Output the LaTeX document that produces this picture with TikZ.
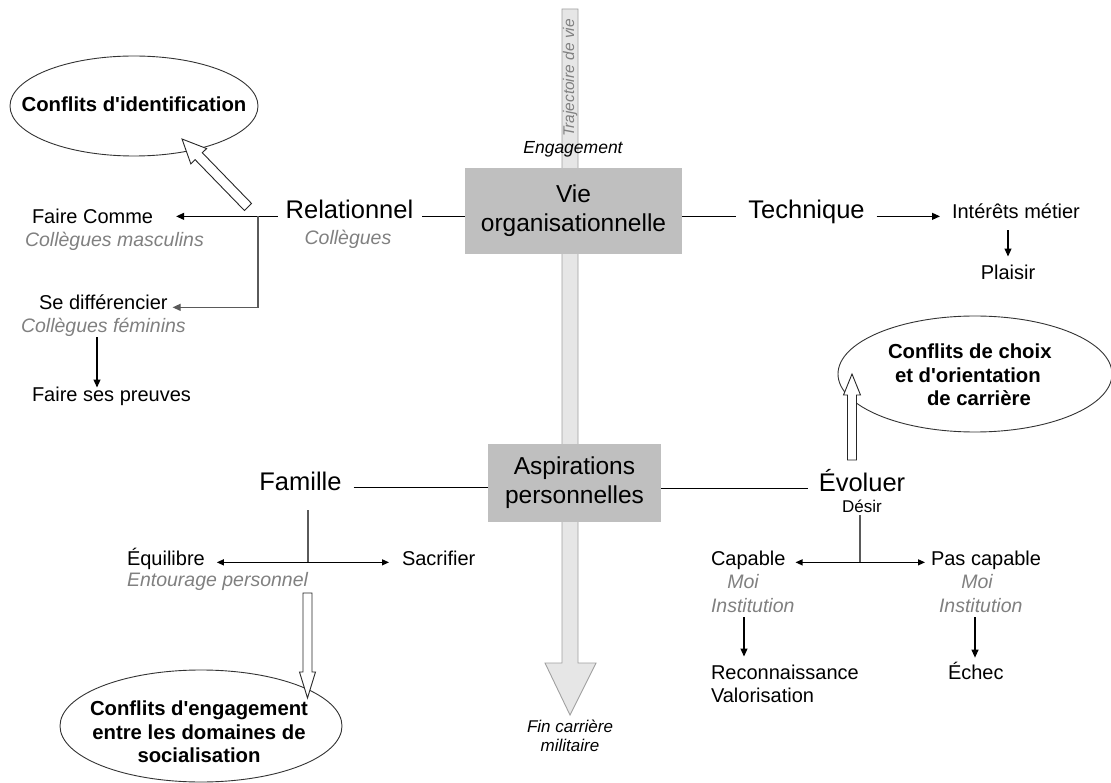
\documentclass[tikz,border=0pt]{standalone}
\usepackage{fontspec}
\setmainfont{Liberation Sans}[Ligatures=TeXOff]
\usetikzlibrary{arrows.meta,shapes.geometric,calc}
\definecolor{boxgray}{HTML}{BFBFBF}
\definecolor{shaftfill}{HTML}{E6E6E6}
\definecolor{shaftline}{HTML}{A0A0A0}
\definecolor{subgray}{HTML}{808080}
\definecolor{linegray}{HTML}{5A5A5A}
\newcommand\myfs[1]{\fontsize{#1}{#1}\selectfont}
\newcommand\hollowarr[5]{%
  \coordinate (hb) at ($(#2)!#5!(#1)$);
  \draw[hollow] ($(#1)!#3!90:(#2)$) -- ($(hb)!#3!-90:(#1)$) -- ($(hb)!#4!-90:(#1)$) -- (#2)
     -- ($(hb)!#4!90:(#1)$) -- ($(hb)!#3!90:(#1)$) -- ($(#1)!#3!-90:(#2)$) -- cycle;}
\begin{document}
\begin{tikzpicture}[x=1pt,y=-1pt,
  lbl/.style={inner sep=0pt, outer sep=0pt, anchor=base},
  bigtxt/.style={font=\myfs{25.5}},
  medtxt/.style={font=\myfs{20}},
  subtxt/.style={font=\myfs{19.5}\itshape, text=subgray},
  ctxt/.style={font=\myfs{20.3}\bfseries},
  conn/.style={line width=1.1pt, draw=black},
  arr/.style={conn, -{Triangle[length=8pt,width=7pt]}},
  darr/.style={conn, {Triangle[length=7pt,width=6pt]}-{Triangle[length=7pt,width=6pt]}},
  branch/.style={line width=1.1pt, draw=linegray},
  cbox/.style={fill=boxgray, draw=none, align=center, font=\fontsize{24.5}{29}\selectfont, inner sep=0pt},
  confl/.style={ellipse, draw=black!80, line width=0.9pt, inner sep=0pt},
  hollow/.style={draw=black!85, fill=white, line width=0.9pt, line join=miter},
  shaft/.style={draw=shaftline, fill=shaftfill, line width=0.9pt}]
\useasboundingbox (0,0) rectangle (1111,783);
% life trajectory arrow
\draw[shaft] (562,9) -- (578,9) -- (578,663) -- (596,663) -- (570,715) -- (545,663) -- (562,663) -- cycle;
\node[lbl, rotate=90, anchor=center, font=\myfs{15.5}\itshape, text=subgray] (traj) at (570,78) {Trajectoire de vie};
\node[lbl, font=\myfs{17.5}\itshape] (eng) at (573,154) {Engagement};
\node[lbl, anchor=center, align=center, font=\fontsize{17}{19}\selectfont\itshape] (fin) at (570,736) {Fin carrière\\militaire};
% central boxes
\node[cbox, minimum width=217pt, minimum height=86pt] (vie) at (573.5,211) {Vie\\organisationnelle};
\node[cbox, minimum width=173pt, minimum height=78pt] (asp) at (574.5,483) {Aspirations\\personnelles};
% ---- Relationnel
\node[lbl, bigtxt] (rel) at (349.5,219) {Relationnel};
\node[lbl, subtxt] (relsub) at (348,245) {Collègues};
\node[lbl, medtxt, anchor=base west] (fc) at (32,224) {Faire Comme};
\node[lbl, subtxt, anchor=base west] (fcsub) at (25,247) {Collègues masculins};
\node[lbl, medtxt, anchor=base west] (sd) at (39,310) {Se différencier};
\node[lbl, subtxt, anchor=base west] (sdsub) at (21,333) {Collègues féminins};
\node[lbl, medtxt, anchor=base west] (fsp) at (32,402) {Faire ses preuves};
\node[confl, minimum width=248pt, minimum height=100pt] (cid) at (134,106) {};
\node[lbl, ctxt] (cidt) at (134,112) {Conflits d'identification};
\draw[conn, shorten <=9pt] (rel.mid east) -- (rel.mid east -| vie.west);
\draw[arr, shorten <=8pt, shorten >=23pt] (rel.mid west) -- (rel.mid west -| fc.east);
\coordinate (rb) at (258,0);
\draw[branch, -{Triangle[length=8pt,width=7pt]}, shorten >=5pt] (rel.mid west -| rb) |- (sd.mid east);
\coordinate (fa) at (97,0);
\draw[arr] (sdsub.south -| fa) -- (fsp.north -| fa);
\coordinate (t1) at (248,207);
\coordinate (h1) at (182,139);
\hollowarr{t1}{h1}{5pt}{11pt}{24pt}
% ---- Technique
\node[lbl, bigtxt] (tech) at (806.5,219) {Technique};
\draw[conn, shorten >=12pt] (tech.mid west -| vie.east) -- (tech.mid west);
\node[lbl, medtxt, anchor=base west] (int) at (952,219) {Intérêts métier};
\draw[arr, shorten <=12pt, shorten >=12pt] (tech.mid east) -- (tech.mid east -| int.west);
\node[lbl, medtxt] (pla) at (1008,280) {Plaisir};
\draw[arr, shorten <=11pt, shorten >=9pt] (int.south -| pla) -- (pla.north);
% ---- Evoluer
\node[confl, minimum width=274pt, minimum height=116pt] (cch) at (975,374) {};
\node[lbl, ctxt, anchor=base west] (cc1) at (888,359) {Conflits de choix};
\node[lbl, ctxt, anchor=base west] (cc2) at (895,383) {et d'orientation};
\node[lbl, ctxt, anchor=base west] (cc3) at (927,406) {de carrière};
\node[lbl, bigtxt] (evo) at (862,491) {Évoluer};
\node[lbl, font=\myfs{17}] (des) at (862,512) {Désir};
\draw[conn, shorten >=11pt] (evo.mid west -| asp.east) -- (evo.mid west);
\coordinate (t2) at (852,460);
\coordinate (h2) at (852,374);
\hollowarr{t2}{h2}{4.5pt}{8.5pt}{21pt}
\node[lbl, medtxt, anchor=base west] (cap) at (711,565) {Capable};
\node[lbl, subtxt] (capm) at (743,588) {Moi};
\node[lbl, subtxt, anchor=base west] (capi) at (711,612) {Institution};
\node[lbl, medtxt, anchor=base west] (rec) at (711,679) {Reconnaissance};
\node[lbl, medtxt, anchor=base west] (val) at (711,702) {Valorisation};
\node[lbl, medtxt, anchor=base west] (pcap) at (931,565) {Pas capable};
\node[lbl, subtxt] (pcm) at (977,588) {Moi};
\node[lbl, subtxt, anchor=base west] (pci) at (939,612) {Institution};
\node[lbl, medtxt, anchor=base west] (ech) at (948,679) {Échec};
\draw[darr, shorten <=10pt, shorten >=6pt] (cap.mid east) -- (pcap.mid west);
\coordinate (db) at (860,0);
\draw[branch, shorten <=3pt] (des.south -| db) -- (cap.mid -| db);
\coordinate (ca) at (744,0);
\draw[arr, shorten <=5pt, shorten >=8pt] (capi.south -| ca) -- (rec.north -| ca);
\coordinate (pa) at (975,0);
\draw[arr, shorten <=5pt, shorten >=4pt] (pci.south -| pa) -- (ech.north -| pa);
% ---- Famille
\node[lbl, bigtxt] (fam) at (300.5,490) {Famille};
\draw[conn, shorten <=12pt] (fam.mid east) -- (fam.mid east -| asp.west);
\node[lbl, medtxt, anchor=base west] (eq) at (127,565) {Équilibre};
\node[lbl, subtxt, anchor=base west] (eqs) at (127,586) {Entourage personnel};
\node[lbl, medtxt, anchor=base west] (sac) at (402,565) {Sacrifier};
\draw[darr, shorten <=12pt, shorten >=13pt] (eq.mid east) -- (sac.mid west);
\coordinate (fb) at (308,0);
\draw[branch, shorten <=20pt] (fam.south -| fb) -- (eq.mid -| fb);
\node[confl, minimum width=282pt, minimum height=112pt] (ceng) at (201,726) {};
\node[lbl, ctxt] (ce1) at (199,715) {Conflits d'engagement};
\node[lbl, ctxt] (ce2) at (199,739) {entre les domaines de};
\node[lbl, ctxt] (ce3) at (199,762) {socialisation};
\coordinate (t3) at (307.5,593);
\coordinate (h3) at (307.5,698);
\hollowarr{t3}{h3}{4.5pt}{8pt}{26pt}
\end{tikzpicture}
\end{document}
